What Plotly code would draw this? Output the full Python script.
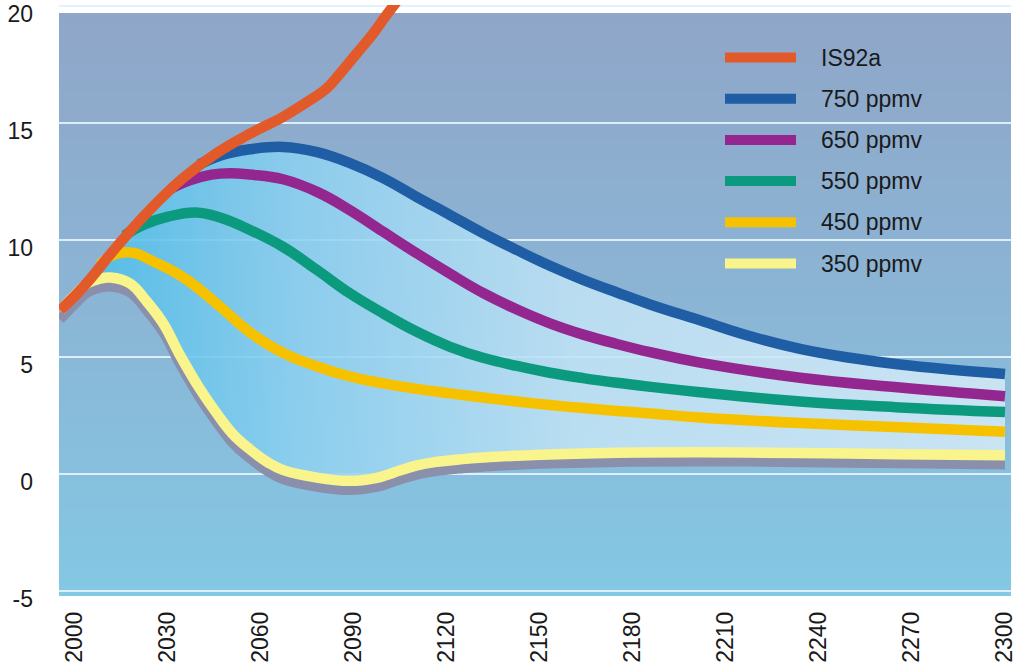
import plotly.graph_objects as go

# ---------------- data ----------------
RED_YEARS = [1995.2, 2002.7, 2013.4, 2024.2, 2034.9, 2045.7, 2056.5, 2067.2, 2075.8, 2081.2,
             2085.5, 2090.9, 2096.2, 2100.5, 2105]
IS92A = [7.0, 8.0, 9.71, 11.3, 12.65, 13.72, 14.55, 15.27, 15.98, 16.48,
         17.12, 17.98, 18.83, 19.62, 20.4]

Y750_YEARS = [2040, 2047, 2056.5, 2067.1, 2078.1, 2088.7, 2099.4, 2110.3, 2121, 2131.6, 2142.6,
              2153.2, 2163.9, 2174.8, 2185.5, 2201.6, 2217, 2233.9, 2250, 2266.1, 2283, 2300]
S750 = [13.22, 13.62, 13.88, 13.98, 13.76, 13.29, 12.65, 11.84, 11.07, 10.3, 9.57,
        8.9, 8.3, 7.76, 7.25, 6.57, 5.92, 5.35, 4.97, 4.68, 4.46, 4.28]

Y650_YEARS = [2031, 2037, 2044, 2050, 2056.5, 2067.1, 2078.1, 2088.7, 2099.4, 2110.3, 2121,
              2131.6, 2142.6, 2153.2, 2163.9, 2174.8, 2185.5, 2201.6, 2233.9, 2266.1, 2300]
S650 = [12.2, 12.55, 12.8, 12.86, 12.8, 12.6, 12.06, 11.28, 10.36, 9.43, 8.56,
        7.74, 7.03, 6.44, 5.96, 5.56, 5.21, 4.76, 4.12, 3.7, 3.33]

Y550_YEARS = [2016, 2022, 2030, 2039, 2047, 2056.5, 2067.1, 2078.1, 2088.7, 2099.4, 2110.3,
              2121, 2131.6, 2142.6, 2153.2, 2163.9, 2174.8, 2185.5, 2201.6, 2233.9, 2266.1, 2300]
S550 = [10.2, 10.65, 11.0, 11.18, 10.95, 10.43, 9.71, 8.72, 7.72, 6.87, 6.08,
        5.44, 4.97, 4.62, 4.33, 4.1, 3.9, 3.73, 3.5, 3.1, 2.85, 2.65]

Y450_YEARS = [2008, 2013, 2019, 2025, 2035, 2046, 2056.5, 2067.1, 2078.1, 2088.7, 2099.4, 2110.3,
              2121, 2131.6, 2142.6, 2153.2, 2163.9, 2174.8, 2185.5, 2201.6, 2233.9, 2266.1, 2300]
S450 = [8.95, 9.4, 9.45, 9.1, 8.4, 7.25, 6.05, 5.18, 4.6, 4.17, 3.88, 3.64,
        3.45, 3.27, 3.1, 2.95, 2.82, 2.7, 2.59, 2.42, 2.18, 2.0, 1.81]

Y350_YEARS = [1995.2, 2000, 2004, 2008, 2011.5, 2017.7, 2023, 2028.4, 2034, 2040, 2045.7, 2051,
              2056.5, 2062, 2067, 2078, 2088.7, 2097, 2100, 2105, 2110.3, 2116, 2125, 2132,
              2142, 2153, 2175, 2201.6, 2234, 2266, 2300]
S350 = [7.0, 7.65, 8.15, 8.35, 8.4, 8.15, 7.4, 6.45, 5.05, 3.7, 2.6, 1.7,
        1.05, 0.52, 0.18, -0.15, -0.29, -0.17, -0.06, 0.16, 0.37, 0.51, 0.64, 0.71,
        0.78, 0.84, 0.91, 0.93, 0.9, 0.85, 0.8]
SHADOW_OFFSET = 0.4

SERIES_NAMES = ["IS92a", "750 ppmv", "650 ppmv", "550 ppmv", "450 ppmv", "350 ppmv"]
SERIES_COLORS = ["#e2592a", "#1f5da5", "#93278f", "#0c9a7e", "#f6c200", "#f9f48c"]
SHADOW_COLOR = "#8a8fab"

X_TICKS = list(range(2000, 2301, 30))
Y_TICKS = [-5, 0, 5, 10, 15, 20]
Y_TICK_TEXT = ["-5", "0", "5", "10", "15", "20"]

# ---------------- layout geometry ----------------
W, H = 1024, 669
ML, MR, MT, MB = 59, 13, 5, 69
PW, PH = W - ML - MR, H - MT - MB
PX_PER_UNIT = 23.4                     # vertical scale of the reference
X_RANGE = [1994.84, 2301.94]
Y_RANGE = [-5.381, -5.381 + PH / PX_PER_UNIT]
BG_BOTTOM, BG_TOP = -5.21, 19.70       # extent of the blue panel
LABEL_SHIFT = 8 / PX_PER_UNIT          # reference prints y labels ~8px below the grid lines
Y2_RANGE = [Y_RANGE[0] + LABEL_SHIFT, Y_RANGE[1] + LABEL_SHIFT]

def px_to_paper(px, py):
    return (px - ML) / PW, (H - MB - py) / PH

FONT = "Liberation Sans, Arial, Helvetica, sans-serif"
LINE_W = 10.5
SPLINE = dict(shape="spline", smoothing=1.2)

fig = go.Figure()

# band fill between the upper envelope and the 350 ppmv path
fig.add_trace(go.Scatter(x=Y350_YEARS, y=S350, mode="lines",
                         line=dict(width=0, **SPLINE),
                         hoverinfo="skip", showlegend=False))
env_x = [x for x in RED_YEARS if x < Y750_YEARS[0]] + Y750_YEARS
env_y = [v for x, v in zip(RED_YEARS, IS92A) if x < Y750_YEARS[0]] + S750
fig.add_trace(go.Scatter(
    x=env_x, y=env_y, mode="lines",
    line=dict(width=0, **SPLINE),
    fill="tonexty",
    fillgradient=dict(type="horizontal",
                      colorscale=[[0.0, "rgba(70,186,230,0.9)"],
                                  [0.25, "rgba(140,208,240,0.87)"],
                                  [0.55, "rgba(194,227,245,0.86)"],
                                  [1.0, "rgba(212,234,247,0.86)"]]),
    hoverinfo="skip", showlegend=False))

# shadow under the 350 ppmv line
fig.add_trace(go.Scatter(x=Y350_YEARS, y=[v - SHADOW_OFFSET for v in S350], mode="lines",
                         line=dict(color=SHADOW_COLOR, width=LINE_W - 1, **SPLINE),
                         hoverinfo="skip", showlegend=False))

series = [
    (Y350_YEARS, S350, 5),
    (Y450_YEARS, S450, 4),
    (Y550_YEARS, S550, 3),
    (Y650_YEARS, S650, 2),
    (Y750_YEARS, S750, 1),
    (RED_YEARS, IS92A, 0),
]
for xs, ys, i in series:
    fig.add_trace(go.Scatter(x=xs, y=ys, mode="lines", name=SERIES_NAMES[i],
                             line=dict(color=SERIES_COLORS[i], width=LINE_W, **SPLINE),
                             showlegend=False))

# empty trace so the label axis is drawn
fig.add_trace(go.Scatter(x=[None], y=[None], yaxis="y2", mode="lines",
                         hoverinfo="skip", showlegend=False))

# ---------------- background gradient (below gridlines) ----------------
shapes = []
N_BANDS = 60
OVERLAP = 0.15
c_bot = (131, 200, 228)
c_mid = (139, 181, 213)
c_top = (143, 166, 200)
for k in range(N_BANDS):
    t = (k + 0.5) / N_BANDS
    if t < 0.5:
        a, b, u = c_bot, c_mid, t / 0.5
    else:
        a, b, u = c_mid, c_top, (t - 0.5) / 0.5
    col = "rgb(%d,%d,%d)" % tuple(round(a[j] + (b[j] - a[j]) * u) for j in range(3))
    y0 = BG_BOTTOM + (BG_TOP - BG_BOTTOM) * k / N_BANDS
    y1 = BG_BOTTOM + (BG_TOP - BG_BOTTOM) * (k + 1) / N_BANDS
    shapes.append(dict(type="rect", xref="paper", yref="y", x0=0, x1=1, y0=y0,
                       y1=min(y1 + OVERLAP, BG_TOP),
                       fillcolor=col, line=dict(width=0), layer="below"))

# ---------------- manual legend ----------------
LEG_BAR_X0, LEG_BAR_X1, LEG_TEXT_X = 725, 796, 819
LEG_TOP_PY, LEG_STEP_PY = 57.5, 41.2
annotations = []
for i, name in enumerate(SERIES_NAMES):
    py = LEG_TOP_PY + i * LEG_STEP_PY
    x0, yp = px_to_paper(LEG_BAR_X0, py)
    x1, _ = px_to_paper(LEG_BAR_X1, py)
    xt, _ = px_to_paper(LEG_TEXT_X, py)
    shapes.append(dict(type="line", xref="paper", yref="paper", x0=x0, x1=x1, y0=yp, y1=yp,
                       line=dict(color=SERIES_COLORS[i], width=10), layer="above"))
    annotations.append(dict(xref="paper", yref="paper", x=xt, y=yp, text=name, showarrow=False,
                            xanchor="left", yanchor="middle",
                            font=dict(family=FONT, size=23, color="#1a1a1a")))

fig.update_layout(
    width=W, height=H,
    margin=dict(l=ML, r=MR, t=MT, b=MB, pad=0, autoexpand=False),
    paper_bgcolor="white", plot_bgcolor="white",
    shapes=shapes, annotations=annotations,
    showlegend=False,
    font=dict(family=FONT, size=23, color="#1a1a1a"),
    xaxis=dict(range=X_RANGE, tickvals=X_TICKS, ticktext=[str(v) for v in X_TICKS],
               tickangle=-90, showgrid=False, zeroline=False, showline=False, ticks="",
               ticklabelstandoff=6, fixedrange=True, automargin=False,
               ticklabeloverflow="allow"),
    yaxis=dict(range=Y_RANGE, tickvals=Y_TICKS, showgrid=True, showticklabels=False,
               gridcolor="rgba(226,241,250,0.95)", gridwidth=1.5, zeroline=False,
               showline=False, ticks="", fixedrange=True, automargin=False),
    yaxis2=dict(range=Y2_RANGE, overlaying="y", side="left", tickvals=Y_TICKS,
                ticktext=[t + "\u00a0" for t in Y_TICK_TEXT], showgrid=False,
                zeroline=False, showline=False,
                ticks="outside", ticklen=14, tickcolor="rgba(0,0,0,0)",
                fixedrange=True, automargin=False, ticklabeloverflow="allow"),
)

fig.write_html("out.html", config={"displayModeBar": False},
               post_script="document.body.style.margin='0';document.body.style.padding='0';")
